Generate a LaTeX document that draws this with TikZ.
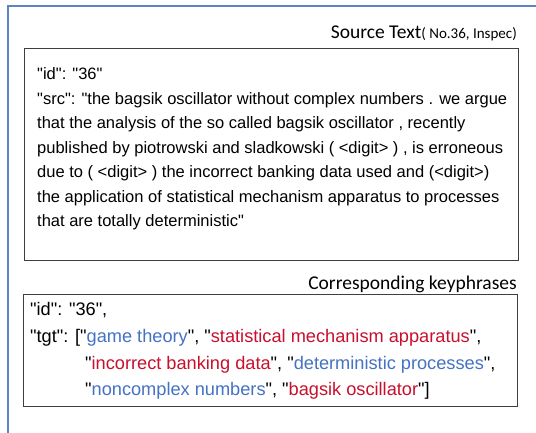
\documentclass[tikz,border=0pt]{standalone}
\usepackage{fontspec}
\setmainfont{Liberation Sans}[Ligatures=TeXOff]
\newfontfamily\headfont{Carlito}
\definecolor{frameblue}{HTML}{5B84C4}
\definecolor{kpblue}{HTML}{4472C4}
\definecolor{kpred}{HTML}{C8102E}
\definecolor{boxgray}{HTML}{3F3F3F}
\begin{document}
\begin{tikzpicture}[x=1pt,y=-1pt,
  srctext/.style={anchor=base west, inner sep=0pt, font=\fontsize{16.5}{20}\selectfont},
  tgttext/.style={anchor=base west, inner sep=0pt, font=\fontsize{18.2}{22}\selectfont},
  headtext/.style={anchor=base east, inner sep=0pt, font=\headfont\fontsize{19.5}{22}\selectfont},
  panel/.style={draw=boxgray, line width=1.4pt, inner sep=0pt, anchor=north west}]
\useasboundingbox (0,0) rectangle (536,432);
\fill[white] (0,0) rectangle (536,432);
\draw[frameblue, line width=2pt] (8,445) -- (8,6) -- (550,6);
% source panel
\node[panel, minimum width=494pt, minimum height=212pt] (srcbox) at (24,48) {};
\node[headtext] (srchead) at (517,38) {Source Text{\fontsize{15}{18}\selectfont( No.36, Inspec)}};
\node[srctext] (s1) at (37,79.5) {"id": "36"};
\node[srctext] (s2) at (37,104) {"src": "the bagsik oscillator without complex numbers . we argue};
\node[srctext] (s3) at (37,128.5) {that the analysis of the so called bagsik oscillator , recently};
\node[srctext] (s4) at (37,153) {published by piotrowski and sladkowski ( <digit> ) , is erroneous};
\node[srctext] (s5) at (37,177.5) {due to ( <digit> ) the incorrect banking data used and (<digit>)};
\node[srctext] (s6) at (37,202) {the application of statistical mechanism apparatus to processes};
\node[srctext] (s7) at (37,226.5) {that are totally deterministic"};
% keyphrase panel
\node[panel, minimum width=494pt, minimum height=112pt] (tgtbox) at (23,294) {};
\node[headtext] (tgthead) at (517,289) {Corresponding keyphrases};
\node[tgttext] (t1) at (30,315.5) {"id": "36",};
\node[tgttext] (t2) at (30,342.5) {"tgt": ["\textcolor{kpblue}{game theory}", "\textcolor{kpred}{statistical mechanism apparatus}",};
\node[tgttext] (t3) at (85,369) {"\textcolor{kpred}{incorrect banking data}", "\textcolor{kpblue}{deterministic processes}",};
\node[tgttext] (t4) at (85,395.5) {"\textcolor{kpblue}{noncomplex numbers}", "\textcolor{kpred}{bagsik oscillator}"]};
\end{tikzpicture}
\end{document}
